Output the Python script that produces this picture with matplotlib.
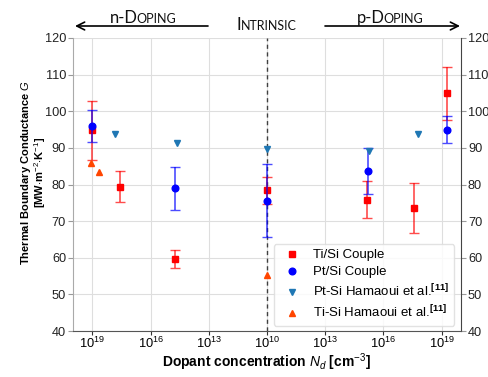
import matplotlib
matplotlib.use("Agg")
import matplotlib.pyplot as plt
from matplotlib.transforms import IdentityTransform
from matplotlib.patches import FancyArrowPatch

plt.rcParams['font.family'] = ['Liberation Sans', 'DejaVu Sans']
plt.rcParams['mathtext.fontset'] = 'custom'
plt.rcParams['mathtext.rm'] = 'Liberation Sans'
plt.rcParams['mathtext.it'] = 'Liberation Sans:italic'
plt.rcParams['mathtext.bf'] = 'Liberation Sans:bold'

# ---- data: (log10 concentration, doping type) ; value ; error ----
# type: 'n' -> left of intrinsic, 'p' -> right, 'i' -> intrinsic (10^10)
tisi_exp = [19.0, 17.6, 14.74, 10.0, 15.17, 17.58, 19.29]
tisi_type = ['n', 'n', 'n', 'i', 'p', 'p', 'p']
tisi_val = [94.8, 79.4, 59.6, 78.4, 75.9, 73.5, 104.9]
tisi_err = [8.0, 4.3, 2.5, 3.6, 5.0, 6.8, 7.2]

ptsi_exp = [19.0, 14.74, 10.0, 15.19, 19.29]
ptsi_type = ['n', 'n', 'i', 'p', 'p']
ptsi_val = [96.0, 79.0, 75.6, 83.7, 95.0]
ptsi_err = [4.3, 5.9, 10.0, 6.4, 3.7]

ham_pt_exp = [17.82, 14.64, 10.0, 15.26, 17.8]
ham_pt_type = ['n', 'n', 'i', 'p', 'p']
ham_pt_val = [93.9, 91.3, 89.7, 89.2, 93.9]

ham_ti_exp = [19.05, 18.66, 10.0]
ham_ti_type = ['n', 'n', 'i']
ham_ti_val = [86.0, 83.5, 55.3]

tick_exps = [19, 16, 13, 10, 13, 16, 19]
tick_types = ['n', 'n', 'n', 'i', 'p', 'p', 'p']
yticks = [40, 50, 60, 70, 80, 90, 100, 110, 120]


def pos(exps, types):
    out = []
    for e, t in zip(exps, types):
        d = e - 10.0
        out.append(-d if t == 'n' else d)
    return out


fig = plt.figure(figsize=(4.89, 3.77), dpi=100)
ax = fig.add_axes([73 / 489, 1 - 331 / 377, 388 / 489, 293 / 377])

ax.set_xlim(-10, 10)
ax.set_ylim(40, 120)
xt = pos(tick_exps, tick_types)
ax.set_xticks(xt)
ax.set_xticklabels([f'$10^{{{e}}}$' for e in tick_exps], fontsize=9.3)
ax.set_yticks(yticks)
ax.set_yticklabels([str(v) for v in yticks], fontsize=9.2)
ax.grid(True, color='#dedede', lw=0.8, zorder=0)
ax.set_axisbelow(True)
ax.axvline(0, color='#404040', lw=1.0, ls=(0, (3, 2.5)), zorder=1)

ax.tick_params(axis='y', which='both', left=True, right=True,
               labelleft=True, labelright=True, length=3.5, pad=1.5)
ax.tick_params(axis='x', length=3.0, pad=0.8, colors='#333333', labelcolor='black')
ax.tick_params(axis='y', colors='#999999', labelcolor='#222222')
ax.spines['top'].set_visible(False)
ax.spines['left'].set_color('#aaaaaa')
ax.spines['right'].set_color('#444444')
ax.spines['bottom'].set_color('#555555')

# Ti/Si
ax.errorbar(pos(tisi_exp, tisi_type), tisi_val, yerr=tisi_err, fmt='none',
            ecolor='red', alpha=0.7, elinewidth=1.2, capsize=3.5, capthick=1.0, zorder=3)
ax.plot(pos(tisi_exp, tisi_type), tisi_val, 's', color='red', ms=4.5,
        label='Ti/Si Couple', zorder=4)
# Pt/Si
ax.errorbar(pos(ptsi_exp, ptsi_type), ptsi_val, yerr=ptsi_err, fmt='none',
            ecolor='blue', alpha=0.7, elinewidth=1.2, capsize=3.5, capthick=1.0, zorder=5)
ax.plot(pos(ptsi_exp, ptsi_type), ptsi_val, 'o', color='blue', ms=4.8,
        label='Pt/Si Couple', zorder=6)
# Hamaoui
ax.plot(pos(ham_pt_exp, ham_pt_type), ham_pt_val, 'v', color='#1f77b4', ms=4.5,
        label=r'Pt-Si Hamaoui et al.$^{\mathbf{[11]}}$', zorder=7)
ax.plot(pos(ham_ti_exp, ham_ti_type), ham_ti_val, '^', color='#ff4500', ms=4.5,
        label=r'Ti-Si Hamaoui et al.$^{\mathbf{[11]}}$', zorder=7)

leg = ax.legend(loc='lower right', bbox_to_anchor=(0.983, 0.017), borderaxespad=0,
                fontsize=9.5, handlelength=2.0, handletextpad=0.6, labelspacing=0.35,
                framealpha=0.85, edgecolor='#dddddd')

# axis labels
fig.text(266 / 489, 1 - 362 / 377, r'Dopant concentration $N_d$ [cm$^{-3}$]',
         ha='center', va='center', fontsize=10, fontweight='bold')
fig.text(33.5 / 489, 1 - 172 / 377,
         'Thermal Boundary Conductance $G$\n[MW$\\cdot$m$^{-2}$$\\cdot$K$^{-1}$]',
         ha='center', va='center', rotation=90, fontsize=8, fontweight='bold',
         multialignment='center', linespacing=1.0)

# small-caps top labels
renderer = fig.canvas.get_renderer()


def smallcaps(parts, cx, baseline_y):
    widths = []
    for s, fs in parts:
        t = fig.text(0, 0, s, fontsize=fs, family='Lato')
        widths.append(t.get_window_extent(renderer).width - 1.2)
        t.remove()
    x = cx - sum(widths) / 2
    for (s, fs), w in zip(parts, widths):
        fig.text(x, baseline_y, s, fontsize=fs, family='Lato', color='#111111',
                 ha='left', va='baseline', transform=IdentityTransform())
        x += w


smallcaps([('n-D', 12), ('OPING', 9)], 142, 377 - 22.7)
smallcaps([('I', 12), ('NTRINSIC', 9)], 266, 377 - 30)
smallcaps([('p-D', 12), ('OPING', 9)], 389, 377 - 22.7)

for a, b in [((208, 351), (75, 351)), ((325, 351), (460, 351))]:
    arr = FancyArrowPatch(a, b, arrowstyle='->', color='black', lw=1.2,
                          mutation_scale=14, shrinkA=0, shrinkB=0,
                          transform=IdentityTransform())
    fig.add_artist(arr)

fig.savefig('out.png', dpi=100)
